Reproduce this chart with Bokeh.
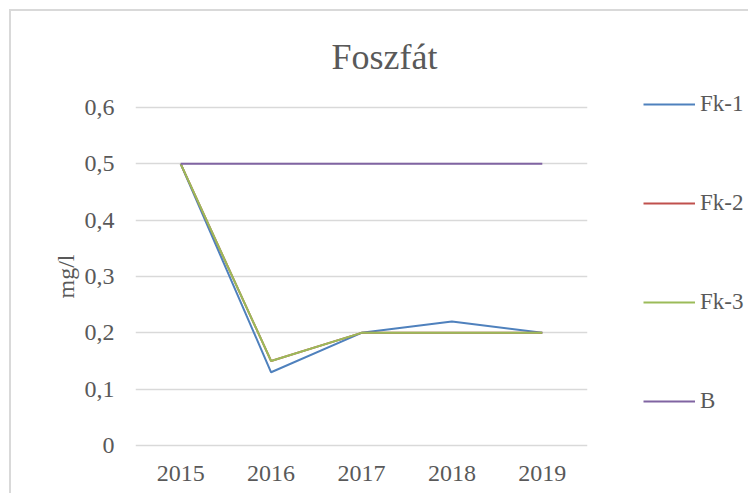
from bokeh.plotting import figure
from bokeh.models import FactorRange, Range1d, FixedTicker, Legend, LegendItem, Title
from bokeh.embed import file_html
from bokeh.resources import INLINE

years = ["2015", "2016", "2017", "2018", "2019"]
fk1 = [0.5, 0.13, 0.2, 0.22, 0.2]
fk2 = [0.5, 0.15, 0.2, 0.2, 0.2]
fk3 = [0.5, 0.15, 0.2, 0.2, 0.2]
b = [0.5, 0.5, 0.5, 0.5, 0.5]
series_names = ["Fk-1", "Fk-2", "Fk-3", "B"]
colors = ["#4F81BD", "#C0504D", "#9BBB59", "#8064A2"]
y_ticks = [0, 0.1, 0.2, 0.3, 0.4, 0.5, 0.6]
y_labels = ["0", "0,1", "0,2", "0,3", "0,4", "0,5", "0,6"]

FONT = "Liberation Serif"
TXT = "#595959"

p = figure(frame_width=452, frame_height=342, x_range=FactorRange(*years), y_range=Range1d(-0.0035, 0.6035),
           output_backend="svg", toolbar_location=None,
           min_border_left=135, min_border_right=153, min_border_top=105, min_border_bottom=46)
p.outline_line_color = None
p.border_fill_color = None
p.styles = {"background": "linear-gradient(#D9D9D9, #D9D9D9) 9px 9px / 2px calc(100% - 9px) no-repeat, "
                          "linear-gradient(#D9D9D9, #D9D9D9) 9px 9px / calc(100% - 9px) 2px no-repeat, #FFFFFF"}

t = Title(text="Foszfát", align="left", text_font=FONT, text_font_size="36px",
          text_font_style="normal", text_color=TXT, offset=196, standoff=58)
p.add_layout(t, "above")

p.yaxis.ticker = FixedTicker(ticks=y_ticks)
p.yaxis.major_label_overrides = {v: l for v, l in zip(y_ticks, y_labels)}
p.yaxis.axis_label = "mg/l"
p.yaxis.axis_label_text_font = FONT
p.yaxis.axis_label_text_font_size = "24px"
p.yaxis.axis_label_text_font_style = "normal"
p.yaxis.axis_label_text_color = TXT
p.yaxis.axis_label_standoff = 3
for ax in (p.xaxis[0], p.yaxis[0]):
    ax.axis_line_color = None
    ax.major_tick_line_color = None
    ax.minor_tick_line_color = None
    ax.major_tick_out = 0
    ax.major_tick_in = 0
    ax.minor_tick_out = 0
    ax.major_label_text_font = FONT
    ax.major_label_text_font_size = "24px"
    ax.major_label_text_color = TXT
p.yaxis.major_label_standoff = 21
p.xaxis.major_label_standoff = 18

p.xgrid.grid_line_color = None
p.ygrid.ticker = FixedTicker(ticks=y_ticks)
p.ygrid.grid_line_color = "#D9D9D9"
p.ygrid.grid_line_width = 1.5

renderers = []
for name, vals, c in zip(series_names, [fk1, fk2, fk3, b], colors):
    r = p.line(years, vals, line_color=c, line_width=2)
    renderers.append(r)

legend = Legend(items=[LegendItem(label=n, renderers=[r]) for n, r in zip(series_names, renderers)],
                location=(56, 31), orientation="vertical", padding=0, margin=0,
                spacing=69, glyph_width=52, glyph_height=30, label_height=30,
                label_standoff=5, label_text_font=FONT, label_text_font_size="23px",
                label_text_color=TXT, border_line_color=None, background_fill_alpha=0)
p.add_layout(legend, "right")

open("out.html", "w").write(file_html(p, INLINE))
